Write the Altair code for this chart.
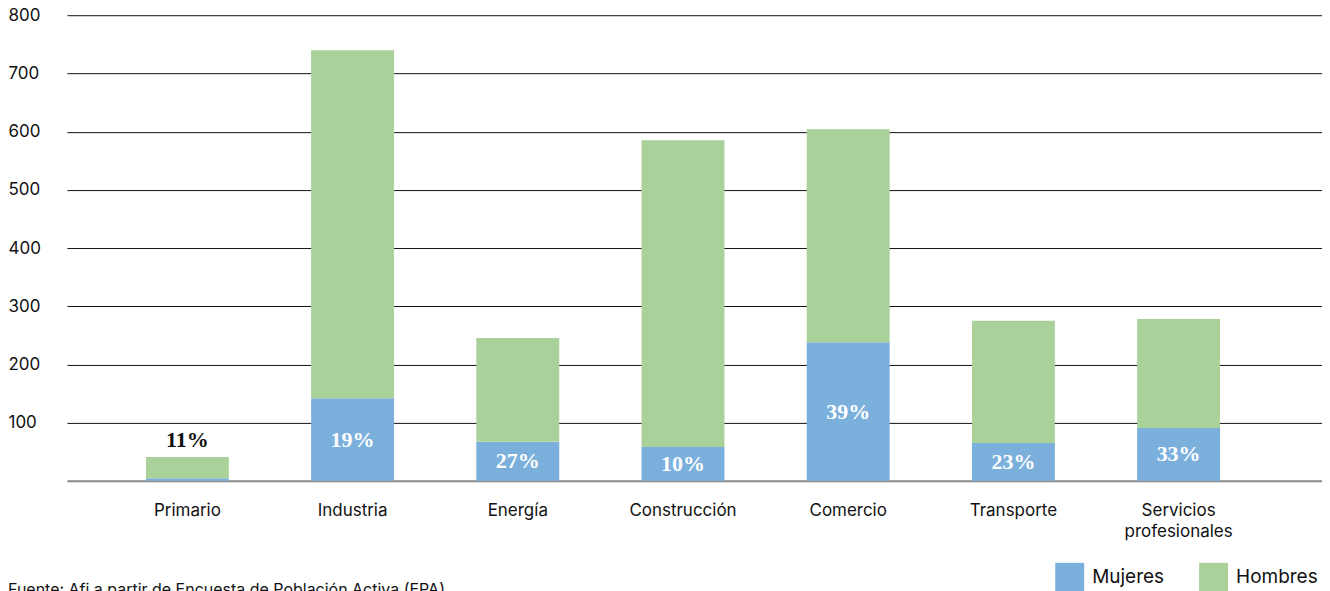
import altair as alt
import pandas as pd

categorias = ["Primario", "Industria", "Energía", "Construcción", "Comercio", "Transporte", "Servicios profesionales"]
mujeres = [4.5, 142, 67, 58, 238, 65, 91]
hombres = [36.5, 598, 178.5, 527, 366, 210, 187]
porcentajes = ["11%", "19%", "27%", "10%", "39%", "23%", "33%"]
series = ["Mujeres", "Hombres"]
colores = ["#7BAFDC", "#ABD19B"]
y_ticks = [100, 200, 300, 400, 500, 600, 700, 800]
fuente = "Fuente: Afi a partir de Encuesta de Población Activa (EPA)"

rows = []
for c, m, h in zip(categorias, mujeres, hombres):
    rows.append({"cat": c, "serie": "Mujeres", "valor": m, "orden": 0})
    rows.append({"cat": c, "serie": "Hombres", "valor": h, "orden": 1})
df = pd.DataFrame(rows)

lab = pd.DataFrame({
    "cat": categorias,
    "mid": [m / 2 for m in mujeres],
    "total": [m + h for m, h in zip(mujeres, hombres)],
    "pct": porcentajes,
})

xscale = alt.Scale(domain=categorias, paddingInner=0.498, paddingOuter=0.5475, align=0.4365)
yscale = alt.Scale(domain=[0, 800], nice=False)

x_enc = alt.X("cat:N", scale=xscale, sort=categorias, title=None,
              axis=alt.Axis(labelAngle=0, labelFont="Inter", labelFontSize=17, labelColor="#111",
                            labelPadding=22, ticks=False, domainColor="#888", domainWidth=2,
                            labelLineHeight=21,
                            labelExpr="datum.label == 'Servicios profesionales' ? ['Servicios','profesionales'] : datum.label"))

bars = alt.Chart(df).mark_bar(size=83).encode(
    x=x_enc,
    y=alt.Y("valor:Q", stack="zero", scale=yscale, title=None,
            axis=alt.Axis(values=y_ticks, labelAlign="left", labelPadding=59, ticks=False, tickSize=0,
                          domain=False, gridColor="#111", gridWidth=1, labelFont="Inter",
                          labelFontSize=17, labelColor="#111")),
    color=alt.Color("serie:N", scale=alt.Scale(domain=series, range=colores),
                    legend=alt.Legend(title=None, orient="none", legendX=989, legendY=548,
                                      direction="horizontal", symbolType="square", symbolSize=840,
                                      symbolStrokeWidth=0, symbolOpacity=1, labelFont="Inter",
                                      labelFontSize=19, labelColor="#111", labelOffset=8,
                                      columnPadding=34, padding=0)),
    order=alt.Order("orden:Q"),
)

txt_in = alt.Chart(lab).transform_filter(alt.datum.cat != "Primario").mark_text(
    font="Liberation Serif", fontWeight="bold", fontSize=22, color="white", baseline="middle"
).encode(x=alt.X("cat:N", scale=xscale, sort=categorias), y=alt.Y("mid:Q", scale=yscale), text="pct:N")

txt_out = alt.Chart(lab).transform_filter(alt.datum.cat == "Primario").mark_text(
    font="Liberation Serif", fontWeight="bold", fontSize=22, color="#111", baseline="middle", dy=-17
).encode(x=alt.X("cat:N", scale=xscale, sort=categorias), y=alt.Y("total:Q", scale=yscale), text="pct:N")

src = alt.Chart(pd.DataFrame({"t": [fuente]})).mark_text(
    align="left", baseline="alphabetic", font="Inter", fontSize=16, color="#111"
).encode(x=alt.value(-59), y=alt.value(580), text="t:N")

chart = alt.layer(bars, txt_in, txt_out, src).properties(
    width=1256, height=466,
    autosize=alt.AutoSizeParams(type="none"),
    padding={"left": 59, "top": 7, "right": 0, "bottom": 110}
).configure_view(stroke=None)

chart.save("out.html", embed_options={"renderer": "svg", "actions": False})
